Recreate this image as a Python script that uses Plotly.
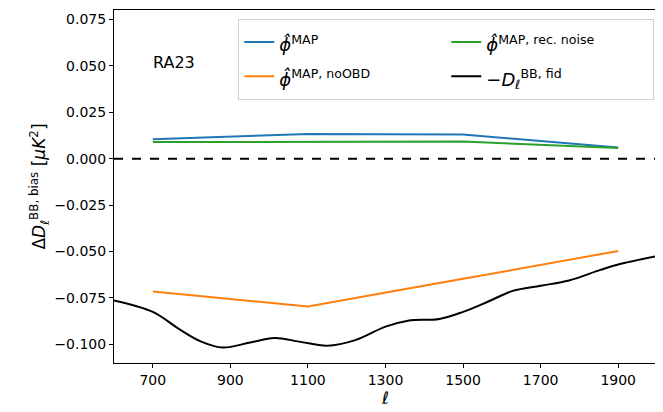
import plotly.graph_objects as go

ell_bins = [700, 1100, 1500, 1900]
bias_map = [0.0104, 0.0133, 0.0130, 0.0060]
bias_noobd = [-0.0715, -0.0796, -0.0647, -0.0497]
bias_recnoise = [0.0089, 0.0092, 0.0092, 0.0057]

ell_fid = [600, 700, 770, 825, 880, 951, 1014, 1078, 1150, 1222, 1300, 1358,
           1439, 1500, 1565, 1628, 1700, 1773, 1854, 1900, 2000]
neg_dbb_fid = [-0.0763, -0.0825, -0.0920, -0.0985, -0.1017, -0.0990, -0.0966,
               -0.0985, -0.1007, -0.0977, -0.0904, -0.0872, -0.0863, -0.0825,
               -0.0769, -0.0712, -0.0684, -0.0656, -0.0599, -0.0570, -0.0525]

x_ticks = [700, 900, 1100, 1300, 1500, 1700, 1900]
y_ticks = [-0.100, -0.075, -0.050, -0.025, 0.000, 0.025, 0.050, 0.075]

phi = "<i>\u03d5\u0302</i>"


def leg(txt):
    return '<span style="font-size:18px">' + txt + '</span>'


fig = go.Figure()
fig.add_trace(go.Scatter(x=ell_bins, y=bias_map, mode="lines",
                         line=dict(color="#1f77b4", width=2),
                         name=leg(phi + "<sup>MAP</sup>")))
fig.add_trace(go.Scatter(x=ell_bins, y=bias_recnoise, mode="lines",
                         line=dict(color="#2ca02c", width=2),
                         name=leg(phi + "<sup>MAP, rec. noise</sup>")))
fig.add_trace(go.Scatter(x=ell_bins, y=bias_noobd, mode="lines",
                         line=dict(color="#ff7f0e", width=2),
                         name=leg(phi + "<sup>MAP, noOBD</sup>")))
fig.add_trace(go.Scatter(x=ell_fid, y=neg_dbb_fid, mode="lines",
                         line=dict(color="black", width=2, shape="spline", smoothing=1.0),
                         name=leg("\u2212<i>D</i><sub><i>\u2113</i></sub><sup>BB, fid</sup>")))

fig.add_shape(type="line", xref="paper", x0=0, x1=1, yref="y", y0=0, y1=0,
              line=dict(color="black", width=2, dash="dash"))

fig.add_annotation(x=700, y=0.0515, text="RA23", showarrow=False,
                   xanchor="left", yanchor="middle", font=dict(size=16, color="black"),
                   xshift=-2)

axis_common = dict(showgrid=False, zeroline=False, showline=True, linecolor="black",
                   linewidth=1, mirror=True, ticks="outside", ticklen=4,
                   tickcolor="black", tickfont=dict(size=14, color="black"))

fig.update_xaxes(range=[600, 2000], tickvals=x_ticks,
                 title=dict(text="<i>\u2113</i>", font=dict(size=17, color="black"), standoff=3),
                 **axis_common)
fig.update_yaxes(range=[-0.11, 0.08], tickvals=y_ticks,
                 ticktext=[f"{v:.3f}".replace("-", "\u2212") for v in y_ticks],
                 title=dict(text="\u0394<i>D</i><sub><i>\u2113</i></sub><sup>BB, bias</sup> [<i>\u03bcK</i><sup>2</sup>]",
                            font=dict(size=17, color="black"), standoff=4),
                 **axis_common)

fig.update_layout(
    width=655, height=404,
    margin=dict(l=106, r=6, t=2, b=49),
    plot_bgcolor="white", paper_bgcolor="white",
    font=dict(family="DejaVu Sans", color="black"),
    legend=dict(orientation="h", x=0.995, y=0.975, xanchor="right", yanchor="top",
                entrywidth=162, bgcolor="rgba(255,255,255,0.8)",
                bordercolor="#d0d0d0", borderwidth=1,
                font=dict(size=24, color="black"), tracegroupgap=0),
)

fig.write_html("out.html")
